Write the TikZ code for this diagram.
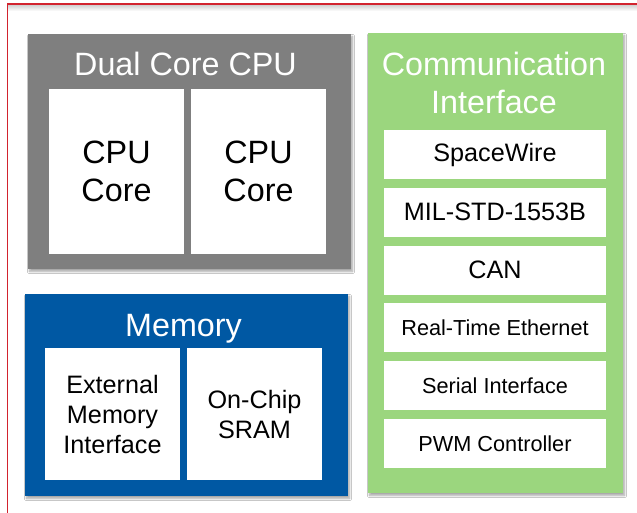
\documentclass[tikz,border=0pt]{standalone}
\usepackage{fontspec}
\setmainfont{Liberation Sans}
\usetikzlibrary{shadows.blur}
\definecolor{cpugray}{HTML}{7F7F7F}
\definecolor{memblue}{HTML}{0058A3}
\definecolor{comgreen}{HTML}{9BD67E}
\definecolor{framered}{HTML}{D2232E}
\tikzset{
  group/.style={draw=none, inner sep=0pt, blur shadow={shadow xshift=1.5pt, shadow yshift=-2.5pt, shadow blur steps=6, shadow opacity=35}},
  unit/.style={fill=white, inner sep=0pt},
  title/.style={text=white, align=center, inner sep=0pt},
  label/.style={text=black, align=center, inner sep=0pt},
  big/.style={font=\fontsize{32.3}{38}\selectfont},
  mid/.style={font=\fontsize{25.2}{30}\selectfont},
  small/.style={font=\fontsize{21.7}{24}\selectfont},
}
\begin{document}
\begin{tikzpicture}[x=1pt, y=-1pt]
\useasboundingbox (0,0) rectangle (637,513);
\fill[white] (0,0) rectangle (637,513);
% outer frame with a soft shade under its top edge
\shade[top color=black!18, bottom color=white] (8,5) rectangle (637,11);
\draw[framered, line width=1.5pt] (7.5,540) -- (7.5,4) -- (660,4);

% Dual core CPU block
\node[group, fill=cpugray, minimum width=323pt, minimum height=235pt] (cpu) at (189.5,151.5) {};
\node[title, big, anchor=base] (cputitle) at (185.5,76) {Dual Core CPU};
\node[unit, minimum width=135pt, minimum height=165pt] (core1) at (116.5,171.5) {};
\node[unit, minimum width=135pt, minimum height=165pt] (core2) at (258.5,171.5) {};
\node[label, big] (core1t) at (core1) {CPU\\Core};
\node[label, big] (core2t) at (core2) {CPU\\Core};

% Memory block
\node[group, fill=memblue, minimum width=323pt, minimum height=202pt] (mem) at (186.5,395) {};
\node[title, big, anchor=base] (memtitle) at (183.5,336) {Memory};
\node[unit, minimum width=135pt, minimum height=132pt] (emi) at (112.5,414) {};
\node[unit, minimum width=135pt, minimum height=132pt] (sram) at (254.5,414) {};
\node[label, mid] (emit) at (emi) {External\\Memory\\Interface};
\node[label, mid] (sramt) at (sram) {On-Chip\\SRAM};

% Communication interface block
\node[group, fill=comgreen, minimum width=255pt, minimum height=460pt] (com) at (495.5,263) {};
\node[title, big, anchor=base, text width=250pt] (comtitle) at (494,76) {Communication\\Interface};
\node[unit, minimum width=222pt, minimum height=49pt] (spw) at (495,154.5) {};
\node[unit, minimum width=222pt, minimum height=49pt] (mil) at (495,212.3) {};
\node[unit, minimum width=222pt, minimum height=49pt] (can) at (495,270.1) {};
\node[unit, minimum width=222pt, minimum height=49pt] (rte) at (495,327.9) {};
\node[unit, minimum width=222pt, minimum height=49pt] (ser) at (495,385.7) {};
\node[unit, minimum width=222pt, minimum height=49pt] (pwm) at (495,443.5) {};
\node[label, mid] at (spw) {SpaceWire};
\node[label, mid] at (mil) {MIL-STD-1553B};
\node[label, mid] at (can) {CAN};
\node[label, small] at (rte) {Real-Time Ethernet};
\node[label, small] at (ser) {Serial Interface};
\node[label, small] at (pwm) {PWM Controller};
\end{tikzpicture}
\end{document}
